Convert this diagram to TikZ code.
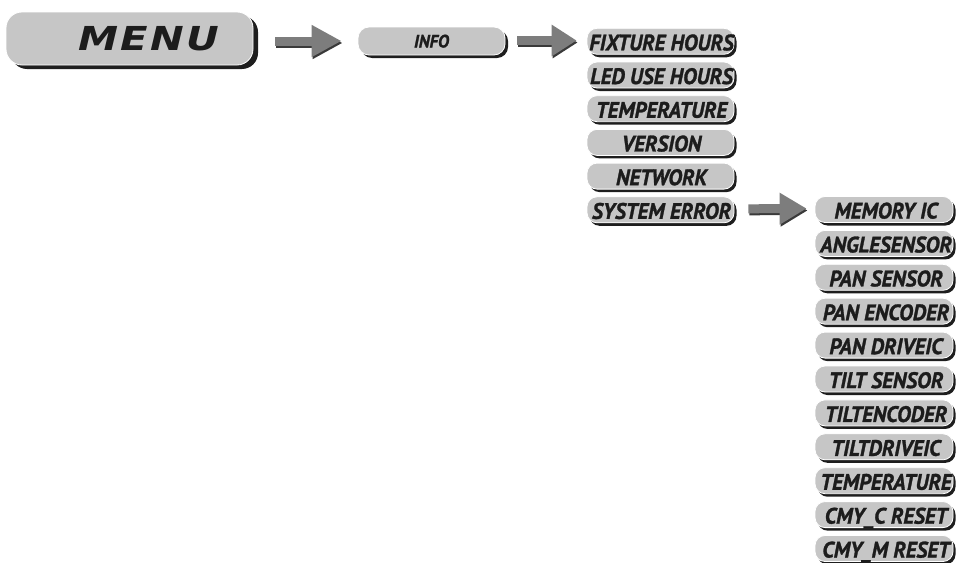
\documentclass[tikz,border=0pt]{standalone}
\usepackage{fontspec}
\setmainfont{PT Sans}[FakeStretch=0.95, BoldItalicFeatures={FakeBold=1.3}]
\newfontfamily\menufont{DejaVu Sans}
\usepackage{graphicx}
\usetikzlibrary{shadows,arrows.meta,calc}
\definecolor{btngray}{HTML}{C6C6C6}
\definecolor{shadowdark}{HTML}{1E1E1E}
\definecolor{arrgray}{HTML}{7D7D7D}
\definecolor{arrdark}{HTML}{3A3A3A}
\definecolor{txt}{HTML}{1C1C1C}
\begin{document}
\begin{tikzpicture}[x=1pt,y=-1pt,
  btn/.style={fill=btngray, draw=white, line width=0.8pt, inner sep=0pt},
  shd/.style 2 args={drop shadow={shadow xshift=#1, shadow yshift=#2, fill=shadowdark, opacity=1}},
  colone/.style={btn, shd={2.5pt}{-3pt}, minimum width=147pt, minimum height=26pt, rounded corners=10pt},
  coltwo/.style={btn, shd={2.5pt}{-3pt}, minimum width=138pt, minimum height=26pt, rounded corners=10pt},
  lbl/.style={inner sep=0pt, text height=15.7pt, text depth=0pt, text=txt, font=\fontsize{22.4}{22.4}\selectfont\bfseries\itshape},
  fat/.style={line width=9pt, arrgray, -{Triangle[length=#1,width=30pt]}},
  fatshadow/.style={line width=9pt, arrdark, -{Triangle[length=#1,width=30pt]}},
]
\useasboundingbox (0,0) rectangle (957,562);

% main buttons
\node[btn, shd={5pt}{-4pt}, minimum width=247pt, minimum height=53pt, rounded corners=16pt] (menu) at (129.5,38.5) {};
\node[inner sep=0pt, anchor=base, text=txt] (menut) at (149,50)
  {\menufont\bfseries\itshape\fontsize{33}{33}\selectfont\scalebox{1.22}[1]{M\hspace{2pt}E\hspace{2pt}N\hspace{2pt}U}};

\node[btn, shd={3pt}{-3pt}, minimum width=147pt, minimum height=28pt, rounded corners=11pt] (info) at (431.5,41) {};
\node[inner sep=0pt, anchor=base, text=txt, font=\fontsize{18}{18}\selectfont\bfseries\itshape] (infot) at (431.5,47.5) {INFO};

% column one
\node[colone] (fh)   at (660.5,41.3) {};
\node[colone] (led)  at (660.5,75.0) {};
\node[colone] (tmpa) at (660.5,108.7) {};
\node[colone] (ver)  at (660.5,142.4) {};
\node[colone] (net)  at (660.5,176.1) {};
\node[colone] (se)   at (660.5,209.8) {};
\node[lbl] (fht)   at ($(fh.center)+(1,1.2)$) {FIXTURE HOURS};
\node[lbl] (ledt)  at ($(led.center)+(1,1.2)$) {LED USE HOURS};
\node[lbl] (tmpat) at ($(tmpa.center)+(1,1.2)$) {TEMPERATURE};
\node[lbl] (vert)  at ($(ver.center)+(1,1.2)$) {VERSION};
\node[lbl] (nett)  at ($(net.center)+(1,1.2)$) {NETWORK};
\node[lbl] (set)   at ($(se.center)+(1,1.2)$) {SYSTEM ERROR};

% column two
\node[coltwo] (mem)     at (884,209.5) {};
\node[coltwo] (ang)     at (884,243.4) {};
\node[coltwo] (pans)    at (884,277.3) {};
\node[coltwo] (panenc)  at (884,311.2) {};
\node[coltwo] (pandrv)  at (884,345.1) {};
\node[coltwo] (tilts)   at (884,379.0) {};
\node[coltwo] (tiltenc) at (884,412.9) {};
\node[coltwo] (tiltdrv) at (884,446.8) {};
\node[coltwo] (tmpb)    at (884,480.7) {};
\node[coltwo] (cmyc)    at (884,514.6) {};
\node[coltwo] (cmym)    at (884,548.5) {};
\node[lbl] (memt)     at ($(mem.center)+(2,1.2)$) {MEMORY IC};
\node[lbl] (angt)     at ($(ang.center)+(2,1.2)$) {ANGLESENSOR};
\node[lbl] (panst)    at ($(pans.center)+(2,1.2)$) {PAN SENSOR};
\node[lbl] (panenct)  at ($(panenc.center)+(2,1.2)$) {PAN ENCODER};
\node[lbl] (pandrvt)  at ($(pandrv.center)+(2,1.2)$) {PAN DRIVEIC};
\node[lbl] (tiltst)   at ($(tilts.center)+(2,1.2)$) {TILT SENSOR};
\node[lbl] (tiltenct) at ($(tiltenc.center)+(2,1.2)$) {TILTENCODER};
\node[lbl] (tiltdrvt) at ($(tiltdrv.center)+(2,1.2)$) {TILTDRIVEIC};
\node[lbl] (tmpbt)    at ($(tmpb.center)+(2,1.2)$) {TEMPERATURE};
\node[lbl] (cmyct)    at ($(cmyc.center)+(2,1.2)$) {CMY\_C RESET};
\node[lbl] (cmymt)    at ($(cmym.center)+(2,1.2)$) {CMY\_M RESET};

% arrows
\coordinate (a1s) at ($(menu.east)+(22,2.5)$);
\coordinate (a1e) at ($(info.west)+(-16,0)$);
\coordinate (a2s) at ($(info.east)+(12,-0.5)$);
\coordinate (a2e) at ($(fh.west)+(-10,-0.8)$);
\coordinate (a3s) at ($(se.east)+(14,-1)$);
\coordinate (a3e) at ($(mem.west)+(-8,-1)$);
\draw[fatshadow=30pt] ($(a1s)+(1,2)$) -- ($(a1e)+(1,2)$);
\draw[fat=30pt] (a1s) -- (a1e);
\draw[fatshadow=25pt] ($(a2s)+(1,2)$) -- ($(a2e)+(1,2)$);
\draw[fat=25pt] (a2s) -- (a2e);
\draw[fatshadow=27pt] ($(a3s)+(1,2)$) -- ($(a3e)+(1,2)$);
\draw[fat=27pt] (a3s) -- (a3e);
\end{tikzpicture}
\end{document}
